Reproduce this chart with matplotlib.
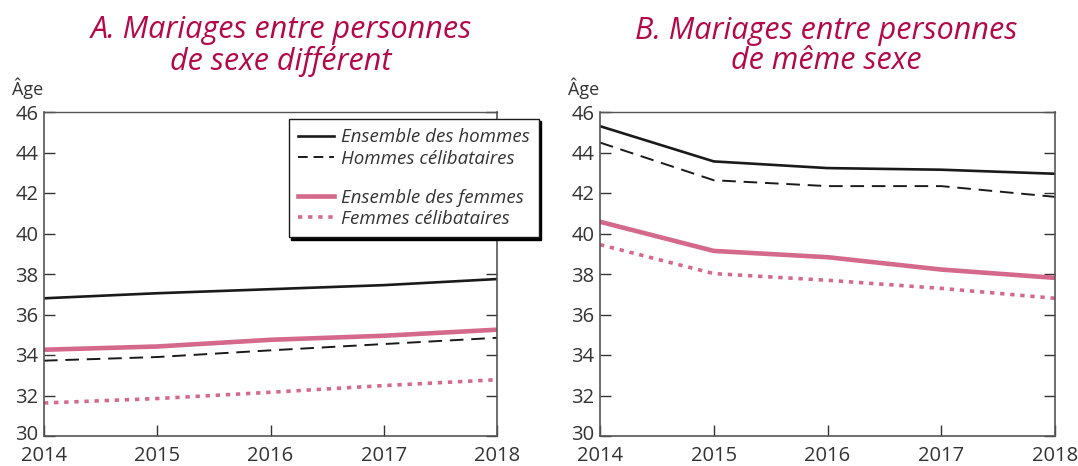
import matplotlib
matplotlib.use("Agg")
import matplotlib.pyplot as plt
import matplotlib.transforms as mtransforms
from matplotlib.lines import Line2D

plt.rcParams['font.family'] = ['Open Sans', 'DejaVu Sans']

years = [2014, 2015, 2016, 2017, 2018]

# Panel A: different-sex marriages
a_hommes = [36.8, 37.05, 37.25, 37.45, 37.75]
a_hommes_celib = [33.72, 33.9, 34.23, 34.54, 34.85]
a_femmes = [34.26, 34.42, 34.75, 34.95, 35.25]
a_femmes_celib = [31.63, 31.85, 32.16, 32.49, 32.78]

# Panel B: same-sex marriages
b_hommes = [45.3, 43.56, 43.23, 43.15, 42.95]
b_hommes_celib = [44.49, 42.63, 42.34, 42.34, 41.81]
b_femmes = [40.58, 39.14, 38.83, 38.22, 37.81]
b_femmes_celib = [39.45, 38.02, 37.69, 37.29, 36.8]

titles = ["A. Mariages entre personnes\nde sexe différent",
          "B. Mariages entre personnes\nde même sexe"]
labels = ["Ensemble des hommes", "Hommes célibataires",
          "Ensemble des femmes", "Femmes célibataires"]
yticks = [30, 32, 34, 36, 38, 40, 42, 44, 46]

BLACK = "#1a1a1a"
PINK = "#d4698b"
TITLE_C = "#b3084a"
TXT = "#333333"

W, H = 1078, 466
fig = plt.figure(figsize=(W/100, H/100), dpi=100)

def px_axes(l, r, t, b):
    return fig.add_axes([l/W, 1-b/H, (r-l)/W, (b-t)/H])

axA = px_axes(44, 497, 112, 436)
axB = px_axes(600, 1055, 112, 436)

data = [(a_hommes, a_hommes_celib, a_femmes, a_femmes_celib),
        (b_hommes, b_hommes_celib, b_femmes, b_femmes_celib)]

for ax, d, title, cx, agex in zip([axA, axB], data, titles, [281, 826], [12, 568]):
    h, hc, f, fc = d
    ax.plot(years, h, color=BLACK, lw=1.9, solid_joinstyle='round')
    ax.plot(years, hc, color=BLACK, lw=1.4, dashes=(7, 4))
    ax.plot(years, f, color=PINK, lw=3.3, solid_joinstyle='round')
    ax.plot(years, fc, color=PINK, lw=2.6, dashes=(1.2, 1.6))
    ax.set_xlim(2014, 2018)
    ax.set_ylim(30, 46)
    ax.set_xticks(years)
    ax.set_yticks(yticks)
    ax.tick_params(axis='y', direction='in', left=True, right=True, length=8,
                   width=1, color=TXT, labelsize=14.5, labelcolor=TXT, pad=4)
    ax.tick_params(axis='x', direction='in', bottom=True, top=False, length=8,
                   width=1, color=TXT, labelsize=14.5, labelcolor=TXT, pad=7)
    for s in ax.spines.values():
        s.set_color("#555555")
        s.set_linewidth(1.2)
    ax.spines['top'].set_linewidth(1.0)
    # nudge the lowest y label slightly up, as in the reference
    lab0 = ax.yaxis.get_major_ticks()[0].label1
    lab0.set_transform(lab0.get_transform() +
                       mtransforms.ScaledTranslation(0, 3/100, fig.dpi_scale_trans))
    fig.text(cx/W, 1-46/H, title, ha='center', va='center', color=TITLE_C,
             fontsize=22, style='italic', linespacing=1.0)
    fig.text(agex/W, 1-88/H, "Âge", ha='left', va='center', color=TXT, fontsize=13)

handles = [
    Line2D([], [], color=BLACK, lw=1.9),
    Line2D([], [], color=BLACK, lw=1.4, dashes=(5, 3)),
    Line2D([], [], color='none'),
    Line2D([], [], color=PINK, lw=3.3),
    Line2D([], [], color=PINK, lw=2.6, dashes=(1.2, 1.6)),
]
leg_labels = [labels[0], labels[1], "", labels[2], labels[3]]
leg = axA.legend(handles, leg_labels, loc='upper left',
                 bbox_to_anchor=(289/W, 1-119/H), bbox_transform=fig.transFigure,
                 borderaxespad=0, fancybox=False, frameon=True,
                 shadow={'color': 'black', 'alpha': 1, 'ox': 1.6, 'oy': -1.6},
                 edgecolor=BLACK, framealpha=1, prop={'style': 'italic', 'size': 13.5},
                 handlelength=1.9, handletextpad=0.35, labelspacing=0.18,
                 borderpad=0.5)
leg.get_frame().set_linewidth(1.0)
for t in leg.get_texts():
    t.set_color(TXT)
leg.get_texts()[2].set_fontsize(3)
leg.set_zorder(10)

fig.savefig("out.png", dpi=100)
